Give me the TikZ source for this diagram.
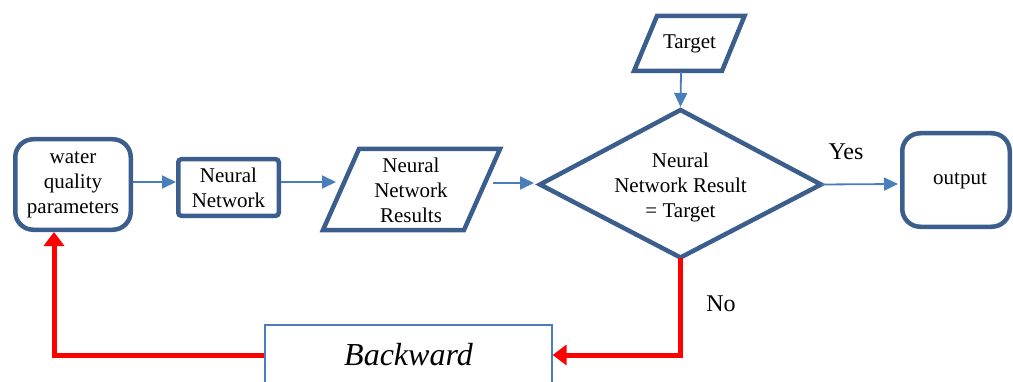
\documentclass[tikz,border=0pt]{standalone}
\usepackage{fontspec}
\setmainfont{Liberation Serif}
\newfontfamily\tnr{Liberation Serif}
\usetikzlibrary{arrows.meta}
\definecolor{boxblue}{RGB}{59,94,140}
\definecolor{arrblue}{RGB}{74,126,187}
\begin{document}
\begin{tikzpicture}[x=1pt,y=1pt,
  txt/.style={align=center,font=\tnr\fontsize{21}{25}\selectfont,inner sep=0pt},
  thickbox/.style={txt,draw=boxblue,line width=4.5pt},
  shapeline/.style={draw=boxblue,line width=4.5pt,line join=miter},
  flow/.style={draw=arrblue,line width=1.8pt,-{Triangle[length=14pt,width=13pt]}},
  backflow/.style={draw=red,line width=5pt,-{Triangle[length=14pt,width=20pt]}},
  lbl/.style={font=\tnr\fontsize{24}{28}\selectfont,inner sep=0pt}]
\useasboundingbox (0,0) rectangle (1013,381);
% boxes
\node[thickbox,rounded corners=18pt,minimum width=115.5pt,minimum height=90.5pt] (water) at (73,196.5) {water\\quality\\parameters};
\node[thickbox,rounded corners=3pt,minimum width=100.5pt,minimum height=56.5pt] (nn) at (228.5,193.5) {Neural\\Network};
\node[thickbox,rounded corners=18pt,minimum width=107.5pt,minimum height=93.5pt] (out) at (956,201) {};
\node[txt] (outtxt) at (960,200) {output};
% parallelogram: NN results
\coordinate (r1) at (323,151);
\coordinate (r2) at (464,151);
\coordinate (r3) at (500,232);
\coordinate (r4) at (359,232);
\draw[shapeline] (r1) -- (r2) -- (r3) -- (r4) -- cycle;
\node[txt] (nnr) at (411,191) {Neural\\Network\\Results};
\coordinate (nnrin) at (336,199);
\coordinate (nnrout) at (493,198);
% target parallelogram
\coordinate (t1) at (634,310);
\coordinate (t2) at (722,310);
\coordinate (t3) at (744.5,365);
\coordinate (t4) at (657,365);
\draw[shapeline] (t1) -- (t2) -- (t3) -- (t4) -- cycle;
\node[txt] (target) at (689.5,337.5) {Target};
\coordinate (tout) at (681,309);
% diamond
\coordinate (dl) at (540,196.5);
\coordinate (dt) at (680.5,271);
\coordinate (dr) at (821,196.5);
\coordinate (db) at (680.5,123.5);
\draw[shapeline] (dl) -- (dt) -- (dr) -- (db) -- cycle;
\node[txt] (dec) at (680.5,194) {Neural\\Network Result\\= Target};
% backward box
\node[draw=arrblue,line width=1.2pt,minimum width=287pt,minimum height=60pt,inner sep=0pt,
      font=\tnr\itshape\fontsize{32}{36}\selectfont] (back) at (408.5,26) {Backward};
% connectors
\draw[flow] (water.east |- 0,199) -- (nn.west |- 0,199);
\draw[flow] (nn.east |- 0,199) -- (nnrin);
\draw[flow] (nnrout) -- ([xshift=-6pt]dl |- 0,198);
\draw[flow] (tout) -- ([yshift=3pt]dt);
\draw[flow] (dr) -- ([xshift=-2pt]out.west |- 0,197);
\coordinate (wbot) at (54,149);
\draw[backflow,line join=miter] (db) -- (db |- back.east) -- (back.east);
\draw[backflow,line join=miter] (back.west) -| (wbot);
% labels
\node[lbl] (yes) at (846,229) {Yes};
\node[lbl] (no) at (721,77) {No};
\end{tikzpicture}
\end{document}
